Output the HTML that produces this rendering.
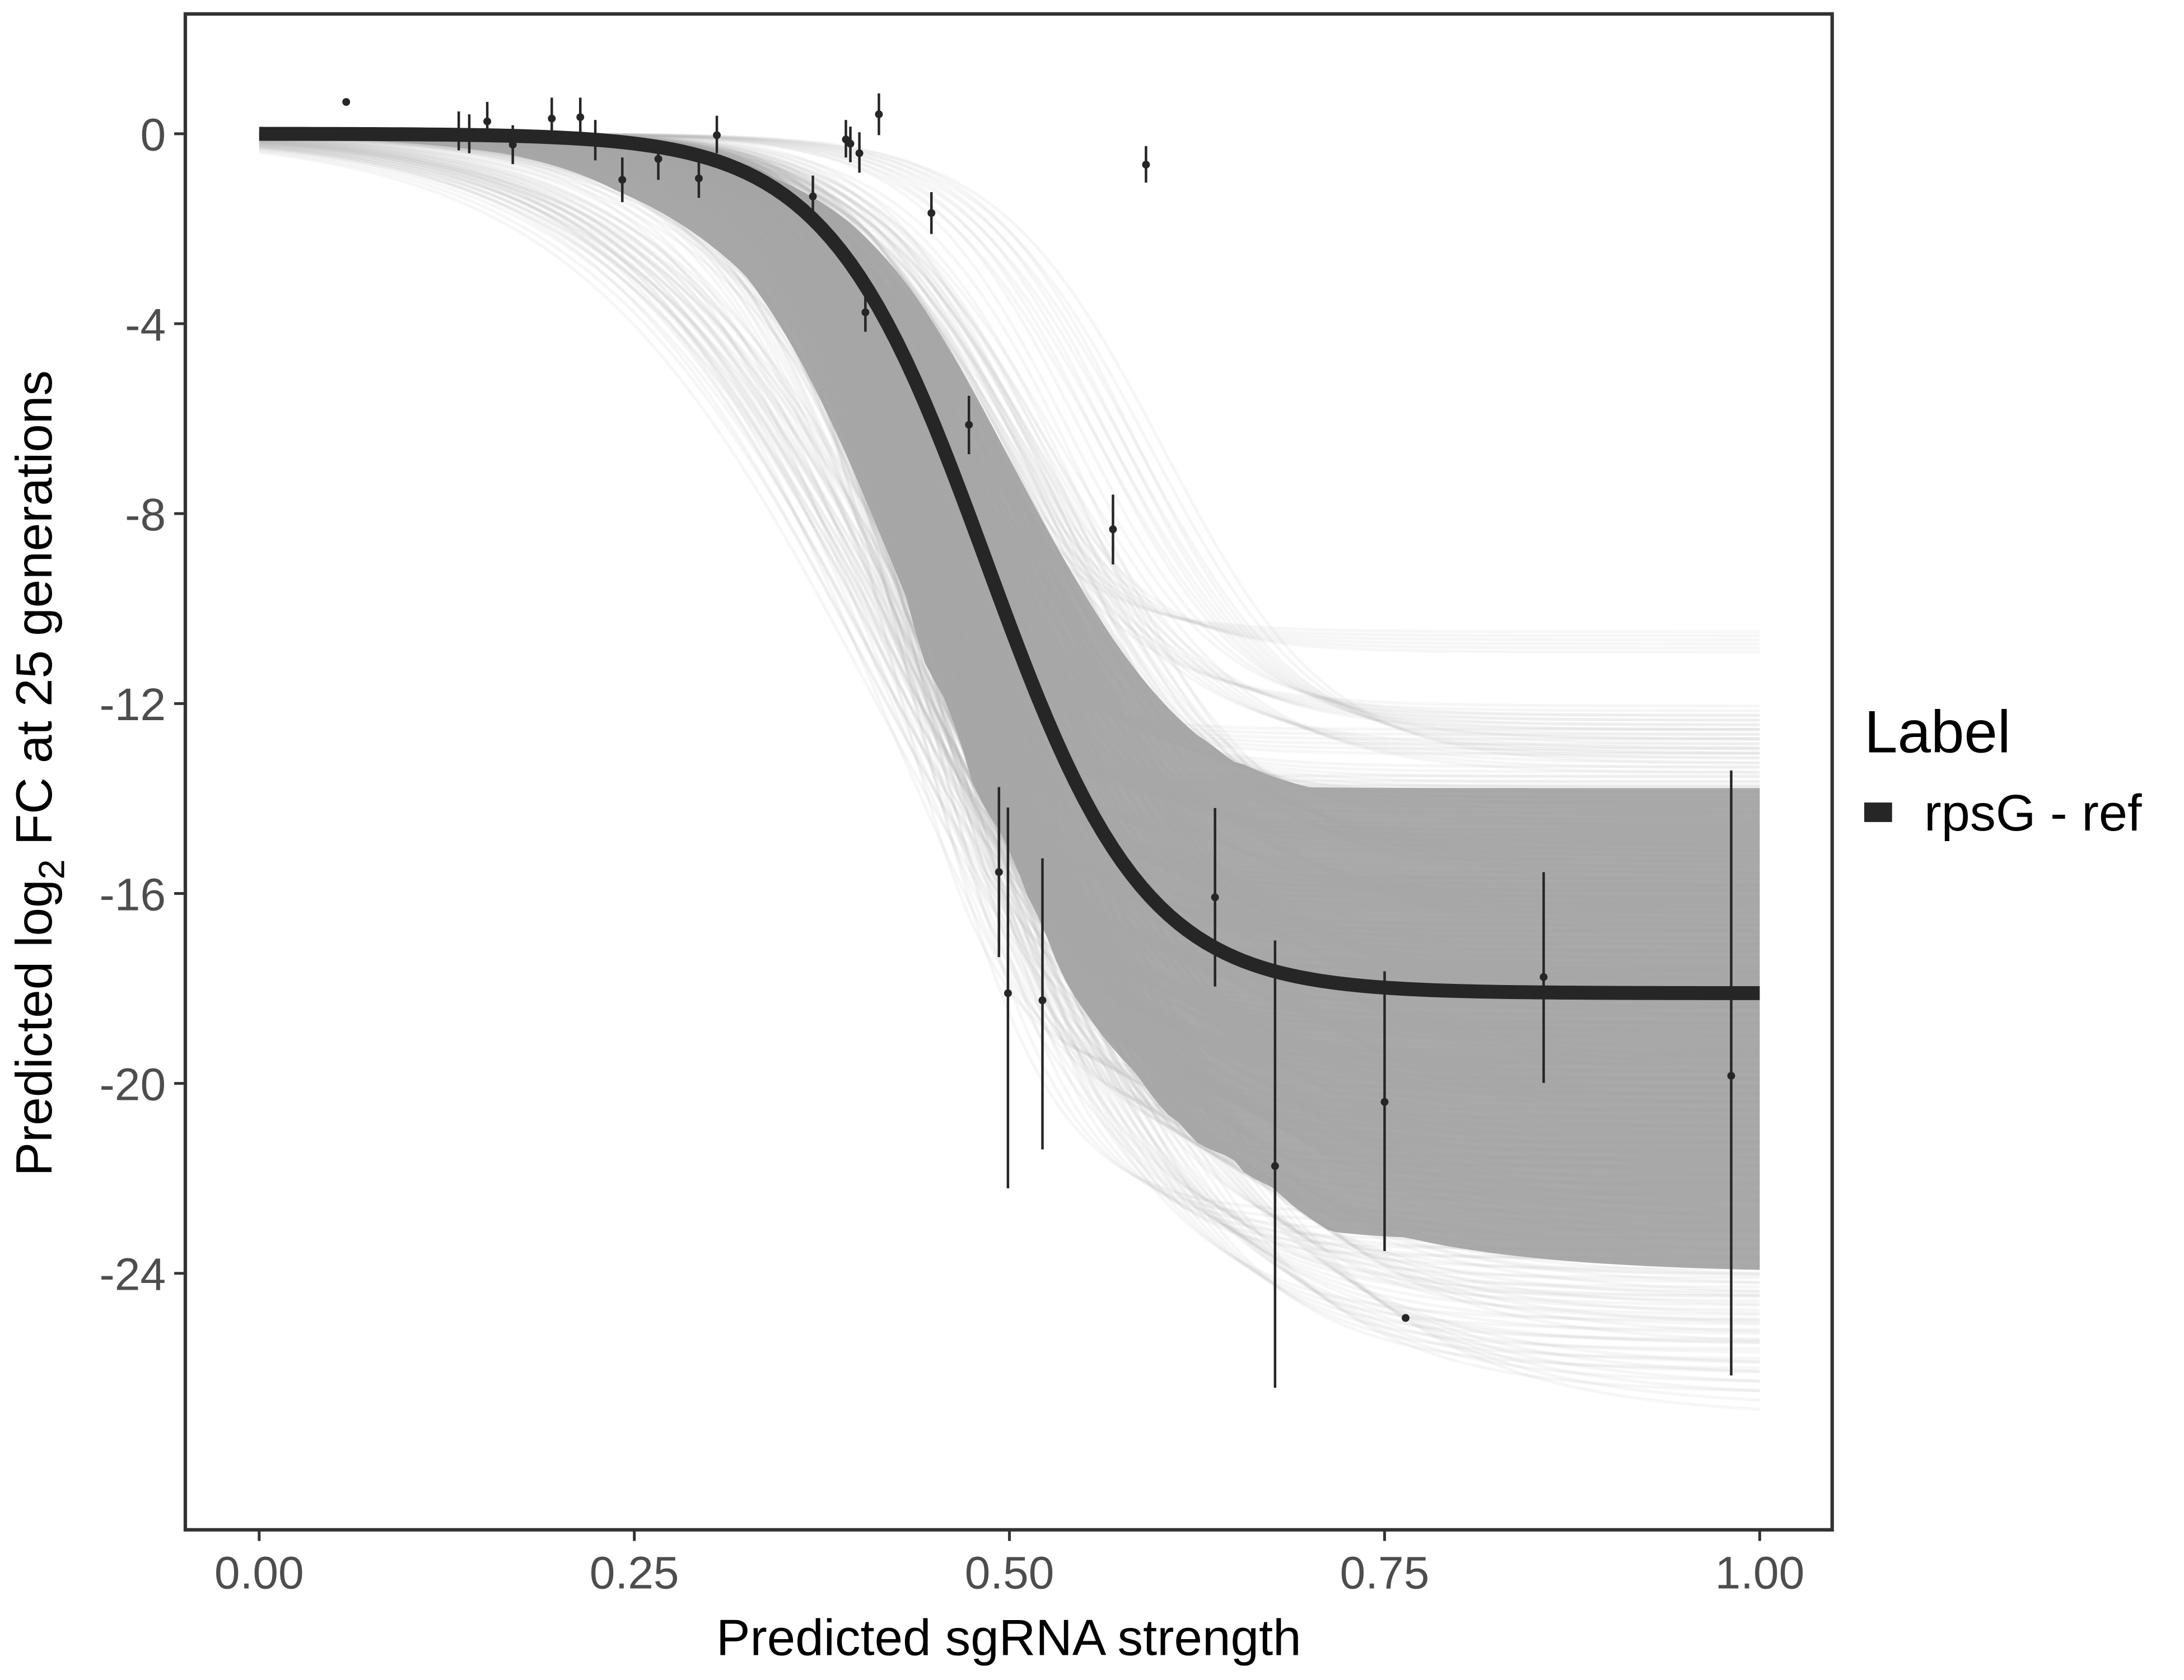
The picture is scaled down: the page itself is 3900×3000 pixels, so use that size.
<!DOCTYPE html>
<html><head><meta charset="utf-8"><style>
html,body{margin:0;padding:0;background:#fff;}
svg{display:block;font-family:"Liberation Sans",Arial,sans-serif;}
</style></head><body>
<svg id="chart" width="3900" height="3000" viewBox="0 0 1567.5 1205.8" xmlns="http://www.w3.org/2000/svg">
<rect x="0" y="0" width="1570" height="1210" fill="#fff"/>
<defs><clipPath id="pc"><rect x="133" y="10" width="1182" height="1088"/></clipPath></defs>
<g id="draws" clip-path="url(#pc)"></g>
<g id="main"></g>
<g id="pts"></g>
<rect x="133" y="10" width="1182" height="1088" fill="none" stroke="#333" stroke-width="2.5"/>
<g id="axes"></g>
<text x="724" y="1188" font-size="36.5" text-anchor="middle" fill="#000">Predicted sgRNA strength</text>
<text transform="translate(37,555) rotate(-90)" font-size="36.5" text-anchor="middle" fill="#000">Predicted  log<tspan font-size="26" dy="9">2</tspan><tspan dy="-9"> FC at 25 generations</tspan></text>
<g>
<text x="1338" y="540" font-size="43" fill="#000">Label</text>
<rect x="1338" y="576" width="20" height="14" fill="#262626"/>
<text x="1381" y="596" font-size="37" fill="#000">rpsG - ref</text>
</g>
</svg>
<script>
// main fit parameters
const mainAsym = -18.1, mainMid = 0.485, mainSlope = 19;
// posterior draw parameters (asymptote, midpoint, slope)
const drawAsym = [-10.7,-12.3,-12.8,-13.2,-13.6,-14.0,-14.3,-14.6,-15.0,-15.3,-15.6,-15.9,-16.2,-16.5,-16.8,-17.0,-17.3,-17.6,-17.9,-18.2,-18.5,-18.8,-19.1,-19.4,-19.7,-20.0,-20.3,-20.6,-21.0,-21.3,-21.7,-22.0,-22.4,-22.8,-23.2,-23.6,-24.0,-24.5,-25.0,-25.5,-26.0,-26.5,-14.8,-16.0,-17.4,-18.6,-19.8,-21.2,-22.6,-15.4,-18.0,-20.4,-13.8,-17.8,-19.2,-16.6,-22.0,-24.0,-25.0,-20.0,-23.0,-12.5,-13.0,-21.5,-18.0,-20.0,-16.0,-21.0,-17.0,-19.0];
const drawMid  = [0.475,0.495,0.445,0.515,0.470,0.435,0.505,0.455,0.480,0.525,0.445,0.490,0.465,0.515,0.450,0.475,0.500,0.440,0.470,0.510,0.455,0.485,0.445,0.520,0.465,0.495,0.435,0.475,0.505,0.450,0.490,0.465,0.515,0.480,0.455,0.500,0.475,0.490,0.505,0.480,0.495,0.515,0.425,0.420,0.430,0.435,0.445,0.460,0.470,0.535,0.530,0.525,0.415,0.450,0.460,0.440,0.420,0.430,0.440,0.410,0.450,0.560,0.580,0.435,0.430,0.435,0.440,0.425,0.445,0.430];
const drawSlope= [22,18,25,16,20,26,17,21,19,15,23,18,22,14,24,20,17,25,19,15,22,18,24,13,20,16,26,19,15,23,17,21,13,18,22,14,17,14,12,15,13,11,24,27,23,20,18,16,14,17,15,13,28,21,19,22,11,10,12,12,10,20,18,11,18,16,20,15,19,17];
// observations
const obsX  = [0.058,0.133,0.140,0.152,0.169,0.195,0.214,0.224,0.242,0.266,0.293,0.305,0.369,0.391,0.394,0.400,0.404,0.413,0.448,0.473,0.493,0.499,0.522,0.569,0.591,0.637,0.677,0.750,0.764,0.856,0.981];
const obsY  = [0.67,0.0,0.0,0.26,-0.23,0.32,0.35,-0.12,-0.97,-0.53,-0.94,-0.03,-1.32,-0.12,-0.21,-0.41,-3.76,0.41,-1.67,-6.13,-15.55,-18.1,-18.25,-8.33,-0.65,-16.08,-21.74,-20.39,-24.94,-17.76,-19.84];
const obsLo = [null,-0.35,-0.41,-0.15,-0.64,-0.06,-0.06,-0.56,-1.44,-0.97,-1.35,-0.41,-1.76,-0.50,-0.60,-0.82,-4.17,-0.03,-2.11,-6.75,-17.34,-22.21,-21.39,-9.07,-1.03,-17.96,-26.41,-23.53,null,-19.99,-26.15];
const obsHi = [null,0.47,0.41,0.67,0.18,0.76,0.76,0.29,-0.50,-0.15,-0.50,0.38,-0.88,0.29,0.15,0.03,-3.35,0.85,-1.23,-5.52,-13.76,-14.19,-15.26,-7.60,-0.26,-14.20,-16.99,-17.64,null,-15.55,-13.41];
const xTicks = [0,0.25,0.5,0.75,1.0];
const xTickLabels = ["0.00","0.25","0.50","0.75","1.00"];
const yTicks = [0,-4,-8,-12,-16,-20,-24];
const yTickLabels = ["0","-4","-8","-12","-16","-20","-24"];

const NS="http://www.w3.org/2000/svg";
function xs(v){return 186+v*1077;}
function ys(v){return 96-v*34.08;}
function logi(a,m,k,x){return a/(1+Math.exp(-k*(x-m)));}
function curvePath(a,m,k){let d="";for(let i=0;i<=160;i++){const x=i/160;d+=(i?"L":"M")+xs(x).toFixed(2)+","+ys(logi(a,m,k,x)).toFixed(2);}return d;}
function mk(tag,attrs,parent){const e=document.createElementNS(NS,tag);for(const k in attrs)e.setAttribute(k,attrs[k]);parent.appendChild(e);return e;}

const dg=document.getElementById('draws');
function quant(arr,q){const s=arr.slice().sort((a,b)=>a-b);const p=q*(s.length-1);const i=Math.floor(p);return s[i]+(s[Math.min(i+1,s.length-1)]-s[i])*(p-i);}
let up=[],lo=[];
for(let i=0;i<=160;i++){const x=i/160;const vals=drawAsym.map((a,j)=>logi(a,drawMid[j],drawSlope[j],x));up.push([xs(x),ys(quant(vals,0.9))]);lo.push([xs(x),ys(quant(vals,0.1))]);}
let bd="M"+up.map(p=>p[0].toFixed(2)+","+p[1].toFixed(2)).join("L")+"L"+lo.reverse().map(p=>p[0].toFixed(2)+","+p[1].toFixed(2)).join("L")+"Z";
const band=mk('path',{d:bd,fill:'#aaaaaa'},dg);


const reps=6;
for(let i=0;i<drawAsym.length;i++){
  for(let r=0;r<reps;r++){
    const off=(r-(reps-1)/2)*0.009;
    const p=mk('path',{d:curvePath(drawAsym[i]*(1+0.008*(r-2.5)),drawMid[i]+off,drawSlope[i]),fill:'none',stroke:'#aaaaaa','stroke-opacity':'0.1','stroke-width':'2.2'},dg);
    
    
  }
}
const mg=document.getElementById('main');
const mp=mk('path',{d:curvePath(mainAsym,mainMid,mainSlope),fill:'none',stroke:'#262626','stroke-width':'10'},mg);



const pg=document.getElementById('pts');
for(let i=0;i<obsX.length;i++){
  const cx=xs(obsX[i]);
  if(obsLo[i]!==null){
    const l=mk('line',{x1:cx,x2:cx,y1:ys(obsLo[i]),y2:ys(obsHi[i]),stroke:'#262626','stroke-width':'1.8'},pg);
    
    
  }
  const c=mk('circle',{cx:cx,cy:ys(obsY[i]),r:'2.8',fill:'#262626'},pg);
  
  
}
const ag=document.getElementById('axes');
xTicks.forEach((v,i)=>{
  const t=mk('line',{x1:xs(v),x2:xs(v),y1:1098,y2:1106,stroke:'#333','stroke-width':'2'},ag);
  
  
  const tx=mk('text',{x:xs(v),y:1140,'font-size':'33','text-anchor':'middle',fill:'#4d4d4d'},ag);
  tx.textContent=xTickLabels[i];
  
  
});
yTicks.forEach((v,i)=>{
  const t=mk('line',{x1:125,x2:133,y1:ys(v),y2:ys(v),stroke:'#333','stroke-width':'2'},ag);
  
  
  const tx=mk('text',{x:119,y:ys(v)+12,'font-size':'33','text-anchor':'end',fill:'#4d4d4d'},ag);
  tx.textContent=yTickLabels[i];
  
  
});
</script>
</body></html>
